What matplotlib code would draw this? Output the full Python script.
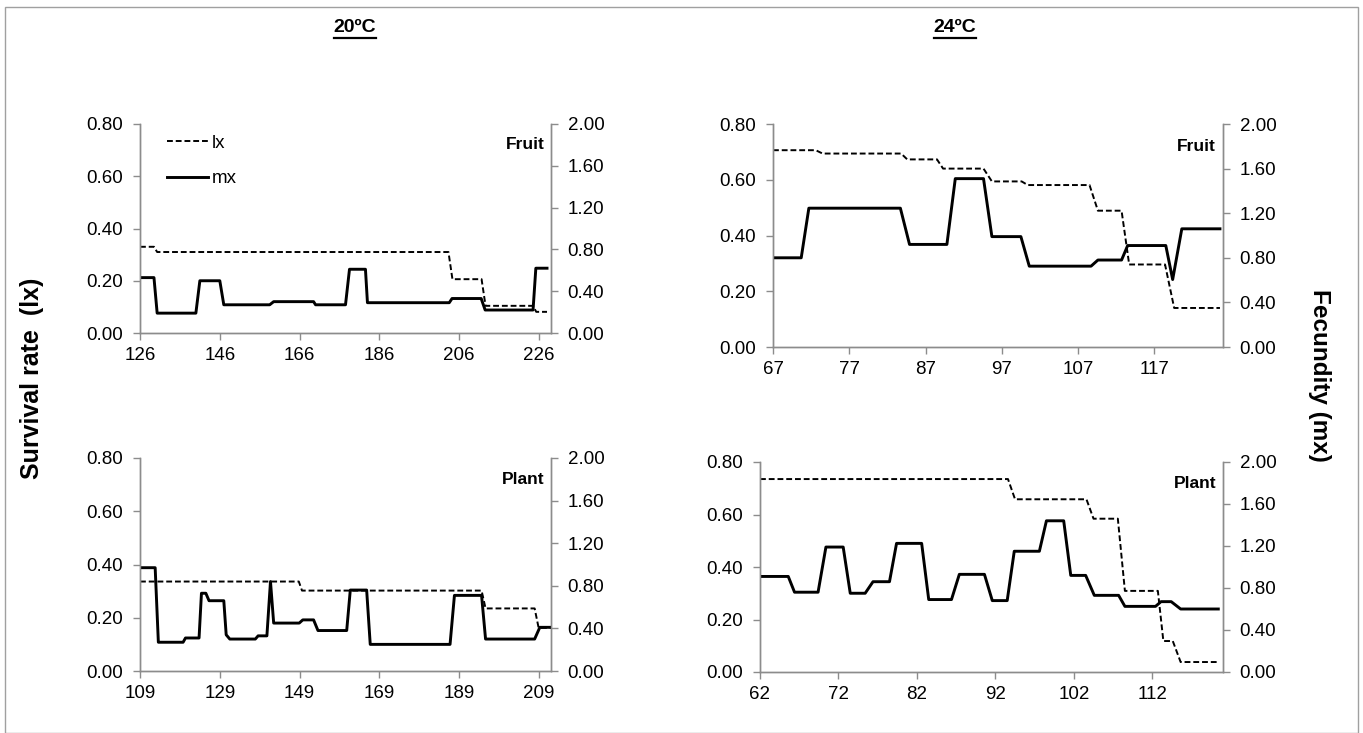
import matplotlib
matplotlib.use("Agg")
import matplotlib.pyplot as plt
from matplotlib.lines import Line2D
from matplotlib.patches import Rectangle

plt.rcParams['font.family'] = ['Liberation Sans', 'DejaVu Sans']

# 20ºC fruit
fruit20_lx_day = [126, 129.5, 130.3, 203.3, 204.3, 211.6, 212.6, 224.5, 225.3, 228]
fruit20_lx = [0.33, 0.33, 0.31, 0.31, 0.206, 0.206, 0.104, 0.104, 0.081, 0.081]
fruit20_mx_day = [126, 129.5, 130.3, 140, 141, 146, 147, 158.5, 159.5, 169.5, 170, 177.5,
                  178.5, 182.5, 183, 203.5, 204.2, 211.5, 212.5, 224.5, 225.2, 228]
fruit20_mx = [0.53, 0.53, 0.19, 0.19, 0.50, 0.50, 0.27, 0.27, 0.30, 0.30, 0.27, 0.27,
              0.61, 0.61, 0.29, 0.29, 0.33, 0.33, 0.22, 0.22, 0.62, 0.62]

# 24ºC fruit
fruit24_lx_day = [67, 72.6, 73.5, 83.8, 84.6, 88.5, 89.3, 94.6, 95.7, 99.6, 100.4, 108.5,
                  109.6, 112.7, 113.7, 118.4, 119.6, 125.6]
fruit24_lx = [0.706, 0.706, 0.694, 0.694, 0.673, 0.673, 0.640, 0.640, 0.594, 0.594, 0.581, 0.581,
              0.489, 0.489, 0.296, 0.296, 0.140, 0.140]
fruit24_mx_day = [67, 70.7, 71.7, 83.7, 84.9, 89.8, 90.9, 94.6, 95.7, 99.5, 100.6, 108.7,
                  109.6, 112.7, 113.5, 118.5, 119.4, 120.6, 125.6]
fruit24_mx = [0.80, 0.80, 1.245, 1.245, 0.92, 0.92, 1.51, 1.51, 0.99, 0.99, 0.725, 0.725,
              0.78, 0.78, 0.91, 0.91, 0.605, 1.06, 1.06]

# 20ºC plant
plant20_lx_day = [109, 148.8, 149.6, 194.6, 195.6, 207.9, 208.9, 212]
plant20_lx = [0.336, 0.336, 0.302, 0.302, 0.235, 0.235, 0.162, 0.162]
plant20_mx_day = [109, 112.8, 113.6, 119.8, 120.4, 123.8, 124.4, 125.5, 126.3, 130, 130.6, 131.5,
                  137.9, 138.6, 140.8, 141.7, 142.5, 148.9, 149.8, 152.5, 153.6, 160.8,
                  161.7, 165.8, 166.7, 186.7, 187.8, 194.6, 195.6, 207.9, 209.2, 212]
plant20_mx = [0.97, 0.97, 0.27, 0.27, 0.31, 0.31, 0.73, 0.73, 0.66, 0.66, 0.34, 0.30,
              0.30, 0.33, 0.33, 0.84, 0.45, 0.45, 0.48, 0.48, 0.38, 0.38,
              0.76, 0.76, 0.25, 0.25, 0.71, 0.71, 0.30, 0.30, 0.41, 0.41]

# 24ºC plant
plant24_lx_day = [62, 93.6, 94.5, 103.6, 104.5, 107.6, 108.5, 112.7, 113.4, 114.6, 115.6, 120.4]
plant24_lx = [0.735, 0.735, 0.658, 0.658, 0.584, 0.584, 0.309, 0.309, 0.118, 0.118, 0.038, 0.038]
plant24_mx_day = [62, 65.6, 66.4, 69.4, 70.4, 72.6, 73.5, 75.4, 76.4, 78.5, 79.4, 82.6,
                  83.5, 86.4, 87.4, 90.6, 91.6, 93.5, 94.4, 97.6, 98.5, 100.7,
                  101.6, 103.5, 104.6, 107.7, 108.5, 112.4, 113.1, 114.4, 115.6, 120.4]
plant24_mx = [0.91, 0.91, 0.76, 0.76, 1.19, 1.19, 0.75, 0.75, 0.86, 0.86, 1.225, 1.225,
              0.69, 0.69, 0.93, 0.93, 0.68, 0.68, 1.15, 1.15, 1.44, 1.44,
              0.92, 0.92, 0.73, 0.73, 0.625, 0.625, 0.67, 0.67, 0.60, 0.60]

lx_ticks = [0.0, 0.2, 0.4, 0.6, 0.8]
mx_ticks = [0.0, 0.4, 0.8, 1.2, 1.6, 2.0]

W, H = 1363, 733
fig = plt.figure(figsize=(W / 100, H / 100), dpi=100)
grey = '#8c8c8c'
dash = (0, (3, 1.5))


def panel(box, xlim, xticks, lx_day, lx, mx_day, mx, name):
    x0, x1, y0, y1 = box
    ax = fig.add_axes([x0 / W, 1 - y1 / H, (x1 - x0) / W, (y1 - y0) / H])
    ax.plot(lx_day, lx, color='black', lw=1.4, ls=dash)
    ax.set_xlim(*xlim)
    ax.set_ylim(0, 0.8)
    ax.set_xticks(xticks)
    ax.set_yticks(lx_ticks)
    ax.set_yticklabels(['%.2f' % v for v in lx_ticks])
    ax2 = ax.twinx()
    ax2.plot(mx_day, mx, color='black', lw=2.1)
    ax2.set_ylim(0, 2.0)
    ax2.set_yticks(mx_ticks)
    ax2.set_yticklabels(['%.2f' % v for v in mx_ticks])
    for a in (ax, ax2):
        a.spines['top'].set_visible(False)
        for s in ('left', 'right', 'bottom'):
            a.spines[s].set_color(grey)
            a.spines[s].set_linewidth(1.0)
        a.tick_params(direction='out', length=5, color=grey, labelsize=13.5, width=1.0, pad=7)
    ax.tick_params(axis='x', pad=5)
    ax2.text(0.985, 0.90, name, transform=ax2.transAxes, ha='right', va='center',
             fontsize=12.5, fontweight='bold')
    return ax


ax_tl = panel((140, 551, 124, 333), (126, 229), [126, 146, 166, 186, 206, 226],
              fruit20_lx_day, fruit20_lx, fruit20_mx_day, fruit20_mx, 'Fruit')
panel((773, 1223, 124, 347), (67, 126), [67, 77, 87, 97, 107, 117],
      fruit24_lx_day, fruit24_lx, fruit24_mx_day, fruit24_mx, 'Fruit')
panel((140, 551, 458, 671), (109, 212), [109, 129, 149, 169, 189, 209],
      plant20_lx_day, plant20_lx, plant20_mx_day, plant20_mx, 'Plant')
panel((760, 1223, 462, 672), (62, 121), [62, 72, 82, 92, 102, 112],
      plant24_lx_day, plant24_lx, plant24_mx_day, plant24_mx, 'Plant')

handles = [Line2D([], [], color='black', lw=1.4, ls=dash),
           Line2D([], [], color='black', lw=2.1)]
ax_tl.legend(handles, ['lx', 'mx'], loc='upper left', bbox_to_anchor=(0.065, 0.95),
             frameon=False, fontsize=13.5, handlelength=2.2, handletextpad=0.2,
             labelspacing=1.0, borderpad=0, borderaxespad=0)

fig.text(32 / W, 1 - 378 / H, 'Survival rate  (lx)', rotation=90, ha='center', va='center',
         fontsize=18, fontweight='bold')
fig.text(1320 / W, 1 - 375 / H, 'Fecundity (mx)', rotation=270, ha='center', va='center',
         fontsize=17.5, fontweight='bold')

titles = []
for tx, lab in ((355, '20ºC'), (955, '24ºC')):
    titles.append(fig.text(tx / W, 1 - 28 / H, lab, ha='center', va='center',
                           fontsize=14, fontweight='bold'))

fig.patches.append(Rectangle((5 / W, 0), 1353 / W, 1 - 7 / H, transform=fig.transFigure,
                             fill=False, edgecolor='#a0a0a0', lw=1.0))

fig.canvas.draw()
r = fig.canvas.get_renderer()
for t in titles:
    bb = t.get_window_extent(r).transformed(fig.transFigure.inverted())
    fig.add_artist(Line2D([bb.x0, bb.x1], [bb.y0 - 1 / H, bb.y0 - 1 / H],
                          transform=fig.transFigure, color='black', lw=1.6))

fig.savefig('out.png', dpi=100)
